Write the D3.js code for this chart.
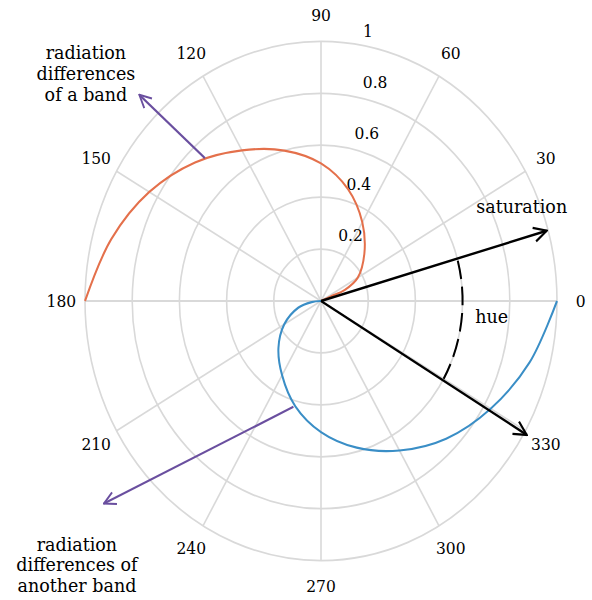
<!DOCTYPE html>
<html>
<head>
<meta charset="utf-8">
<script src="https://cdn.jsdelivr.net/npm/d3@7"></script>
<style>
  body { margin: 0; background: #fff; }
  text { font-family: "DejaVu Serif", serif; fill: #000; }
</style>
</head>
<body>
<div id="chart"></div>
<script>
// polar grid
var angleTicks = [0, 30, 60, 90, 120, 150, 180, 210, 240, 270, 300, 330];
var radiusTicks = [0.2, 0.4, 0.6, 0.8, 1];

// curve of one band (angle in degrees, radius)
var bandAngles = [22, 23, 23, 30, 45, 60, 75, 90, 105, 120, 135, 150, 165, 180];
var bandR      = [0, 0.045, 0.11, 0.18, 0.26, 0.35, 0.445, 0.53, 0.6, 0.67, 0.755, 0.84, 0.92, 1];

// curve of another band
var otherAngles = [180, 186, 195, 210, 225, 240, 255, 270, 285, 300, 315, 330, 345, 360];
var otherR      = [0, 0.04, 0.1, 0.18, 0.255, 0.33, 0.42, 0.505, 0.585, 0.665, 0.75, 0.83, 0.915, 1];

// annotation vectors: [angle from, r from, angle to, r to]
var vectorSaturation = [0, 0, 15.8, 0.994];
var vectorHue = [0, 0, 329.4, 1.013];
var hueArc = [15, 0.6, -30];
var pointerBand = [131.8, 0.738, 134.1, 1.106];
var pointerOther = [254, 0.424, 220.3, 1.206];

var width = 592, height = 600,
    cx = 321, cy = 301,
    radius = 236,
    stretch = 1.1;

var svg = d3.select("#chart").append("svg")
    .attr("width", width)
    .attr("height", height);

var defs = svg.append("defs");
function marker(id, color) {
  defs.append("marker")
      .attr("id", id)
      .attr("viewBox", "0 0 12 12")
      .attr("refX", 11).attr("refY", 6)
      .attr("markerWidth", 7).attr("markerHeight", 7)
      .attr("markerUnits", "strokeWidth")
      .attr("orient", "auto")
    .append("path")
      .attr("d", "M1,1 L11,6 L1,11")
      .attr("fill", "none")
      .attr("stroke", color)
      .attr("stroke-width", 1.6);
}
marker("head-black", "#000");
marker("head-purple", "#6a4f9f");

var g = svg.append("g")
    .attr("transform", "translate(" + cx + "," + cy + ") scale(1," + stretch + ")");

var r = d3.scaleLinear().domain([0, 1]).range([0, radius]);

function rad(a) { return a * Math.PI / 180; }
function px(a, v) { return [r(v) * Math.cos(rad(a)), -r(v) * Math.sin(rad(a))]; }

// rings
g.selectAll(".ring")
    .data(radiusTicks)
  .enter().append("circle")
    .attr("class", "ring")
    .attr("r", function(d) { return r(d); })
    .attr("fill", "none")
    .attr("stroke", "#d9d9d9")
    .attr("stroke-width", 1.6);

// spokes
g.selectAll(".spoke")
    .data(angleTicks)
  .enter().append("line")
    .attr("class", "spoke")
    .attr("x1", 0).attr("y1", 0)
    .attr("x2", function(d) { return px(d, 1)[0]; })
    .attr("y2", function(d) { return px(d, 1)[1]; })
    .attr("stroke", "#d9d9d9")
    .attr("stroke-width", 1.6);

// angle labels
g.selectAll(".angle-label")
    .data(angleTicks)
  .enter().append("text")
    .attr("class", "angle-label")
    .attr("x", function(d) { return px(d, 1.1)[0]; })
    .attr("y", function(d) { return px(d, 1.1)[1]; })
    .attr("text-anchor", "middle")
    .attr("dominant-baseline", "central")
    .style("font-size", "15.5px")
    .text(function(d) { return d; });

// radius labels
g.selectAll(".r-label")
    .data(radiusTicks)
  .enter().append("text")
    .attr("class", "r-label")
    .attr("x", function(d) { return px(80, d)[0] + (d === 1 ? 1 : 9); })
    .attr("y", function(d) { return px(80, d)[1] - 13; })
    .attr("text-anchor", "start")
    .attr("dominant-baseline", "central")
    .style("font-size", "15.5px")
    .text(function(d) { return d; });

var line = d3.lineRadial()
    .angle(function(d) { return rad(90 - d[0]); })
    .radius(function(d) { return r(d[1]); })
    .curve(d3.curveCatmullRom);

g.append("path")
    .datum(d3.zip(bandAngles, bandR))
    .attr("d", line)
    .attr("fill", "none")
    .attr("stroke", "#e4704b")
    .attr("stroke-width", 2);

g.append("path")
    .datum(d3.zip(otherAngles, otherR))
    .attr("d", line)
    .attr("fill", "none")
    .attr("stroke", "#3a8ec6")
    .attr("stroke-width", 2);

function arrow(v, color, head, w) {
  var a = px(v[0], v[1]), b = px(v[2], v[3]);
  g.append("line")
      .attr("x1", a[0]).attr("y1", a[1])
      .attr("x2", b[0]).attr("y2", b[1])
      .attr("stroke", color)
      .attr("stroke-width", w)
      .attr("marker-end", "url(#" + head + ")");
}
arrow(pointerBand, "#6a4f9f", "head-purple", 2);
arrow(pointerOther, "#6a4f9f", "head-purple", 2);
arrow(vectorSaturation, "#000", "head-black", 2.2);
arrow(vectorHue, "#000", "head-black", 2.2);

// hue arc, dashed
var arcPath = d3.path();
arcPath.arc(0, 0, r(hueArc[1]), rad(-hueArc[0]), rad(-hueArc[2]), false);
g.append("path")
    .attr("d", arcPath.toString())
    .attr("fill", "none")
    .attr("stroke", "#000")
    .attr("stroke-width", 2)
    .attr("stroke-dasharray", "17,7");

// annotation texts
function label(a, v, lines, size) {
  var p = px(a, v);
  var t = g.append("text")
      .attr("text-anchor", "middle")
      .style("font-size", size + "px");
  lines.forEach(function(s, i) {
    t.append("tspan")
        .attr("x", p[0])
        .attr("y", p[1] + (i - (lines.length - 1) / 2) * 19 + 6)
        .text(s);
  });
}
label(23.3, 0.926, ["saturation"], 17.5);
label(355.2, 0.726, ["hue"], 17.5);
label(138.6, 1.328, ["radiation", "differences", "of a band"], 17.5);
label(224.5, 1.45, ["radiation", "differences of", "another band"], 17.5);
</script>
</body>
</html>
